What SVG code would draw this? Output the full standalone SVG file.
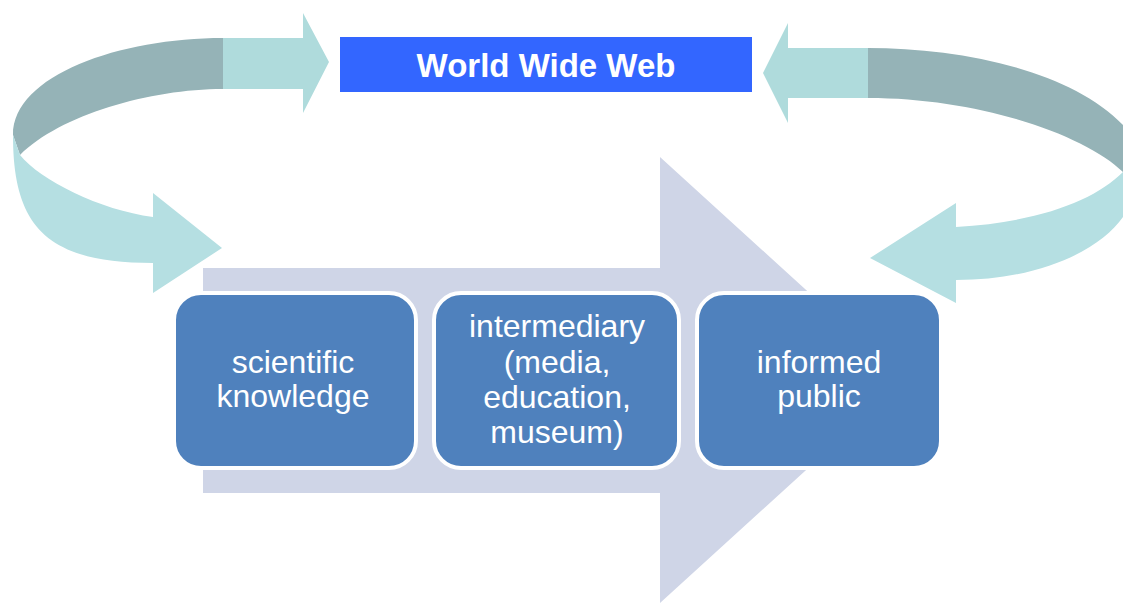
<svg xmlns="http://www.w3.org/2000/svg" width="1123" height="603" viewBox="0 0 1123 603">
  <style>
    .box { fill: #4f81bd; stroke: #ffffff; stroke-width: 4; }
    .lbl { font-family: "Liberation Sans", Arial, sans-serif; font-size: 32px; fill: #ffffff; text-anchor: middle; }
    .title { font-family: "Liberation Sans", Arial, sans-serif; font-size: 33px; font-weight: bold; fill: #ffffff; text-anchor: middle; }
    .light { fill: #afdbdc; }
    .dark { fill: #95b3b7; }
    .lower { fill: #b5dfe2; }
    .big { fill: #cfd5e7; }
  </style>
  <rect width="1123" height="603" fill="#ffffff"/>
  <g id="connectors">
    <path id="flow-arrow" class="big" d="M203,268 L660,268 L660,157 L905,380 L660,603 L660,493 L203,493 Z"/>
    <g id="left-loop">
      <path class="dark" d="M223,38 C120,38 13,75 13,135 L20,155 C60,115 150,89 223,89 Z"/>
      <path class="lower" d="M13,135 C13,225 45,263 153,263 L153,293 L222,248 L153,193 L153,217 C100,210 40,180 20,155 Z"/>
      <path class="light" d="M223,38 L303,38 L303,13 L329,62 L303,113 L303,89 L223,89 Z"/>
    </g>
    <g id="right-loop">
      <path class="dark" d="M868,48 C960,48 1070,70 1123,125 L1123,172 C1085,135 980,98 868,98 Z"/>
      <path class="lower" d="M1123,172 L1123,217 C1100,250 1040,280 956,280 L956,303 L870,258 L956,203 L956,227 C1040,222 1095,200 1123,172 Z"/>
      <path class="light" d="M868,48 L788,48 L788,23 L763,73 L788,123 L788,98 L868,98 Z"/>
    </g>
  </g>
  <g id="www">
    <rect x="340" y="37" width="412" height="55" fill="#3366ff"/>
    <text class="title" x="546" y="77">World Wide Web</text>
  </g>
  <g id="scientific-knowledge">
    <rect class="box" x="174" y="293" width="242" height="175" rx="27"/>
    <text class="lbl" x="293" y="373">scientific</text>
    <text class="lbl" x="293" y="407">knowledge</text>
  </g>
  <g id="intermediary">
    <rect class="box" x="434" y="293" width="245" height="175" rx="27"/>
    <text class="lbl" x="557" y="337">intermediary</text>
    <text class="lbl" x="557" y="373">(media,</text>
    <text class="lbl" x="557" y="408">education,</text>
    <text class="lbl" x="557" y="443">museum)</text>
  </g>
  <g id="informed-public">
    <rect class="box" x="697" y="293" width="244" height="175" rx="27"/>
    <text class="lbl" x="819" y="373">informed</text>
    <text class="lbl" x="819" y="407">public</text>
  </g>
</svg>
